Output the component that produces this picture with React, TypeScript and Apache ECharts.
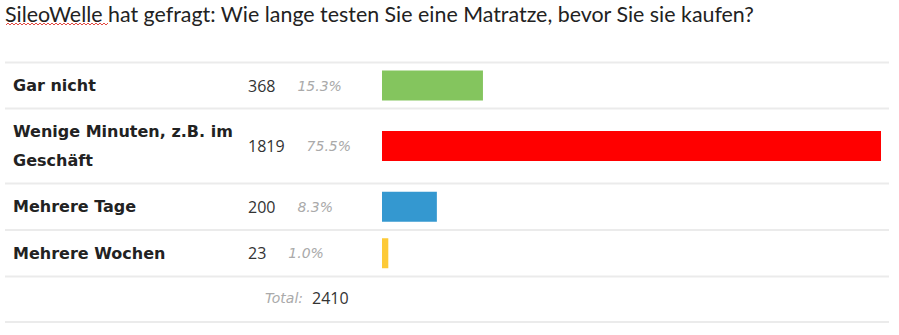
import React, { useEffect, useRef } from "react";
import * as echarts from "echarts";

const titleText = "SileoWelle hat gefragt: Wie lange testen Sie eine Matratze, bevor Sie sie kaufen?";
const categories = ["Gar nicht", "Wenige Minuten, z.B. im Geschäft", "Mehrere Tage", "Mehrere Wochen"];
const counts = [368, 1819, 200, 23];
const percents = ["15.3%", "75.5%", "8.3%", "1.0%"];
const barColors = ["#84c55e", "#ff0000", "#3498d0", "#fdca37"];
const totalLabel = "Total:";

// layout (row separator positions, in px)
const rowLines = [62.5, 108.5, 183.5, 230, 276.5, 322];
const barLeft = 382;
const barAreaWidth = 499;

export default function App() {
  const ref = useRef<HTMLDivElement>(null);
  useEffect(() => {
    if (!ref.current) return;
    const chart = echarts.init(ref.current, null, { renderer: "svg" });
    const maxVal = Math.max(...counts);
    const total = counts.reduce((a, b) => a + b, 0);

    const grids = categories.map((_, i) => ({
      left: barLeft,
      width: barAreaWidth,
      top: rowLines[i],
      height: rowLines[i + 1] - rowLines[i],
    }));
    const xAxes = categories.map((_, i) => ({
      type: "value",
      gridIndex: i,
      min: 0,
      max: maxVal,
      show: false,
    }));
    const yAxes = categories.map((c, i) => ({
      type: "category",
      gridIndex: i,
      data: [c],
      axisLine: { show: false },
      axisTick: { show: false },
      splitLine: { show: false },
      axisLabel: {
        align: "left",
        margin: barLeft - 13,
        fontFamily: "DejaVu Sans",
        fontWeight: "bold",
        fontSize: 16,
        color: "#222",
        width: 230,
        overflow: "break",
        lineHeight: 29,
      },
    }));
    const series = categories.map((c, i) => ({
      type: "bar",
      name: c,
      xAxisIndex: i,
      yAxisIndex: i,
      data: [counts[i]],
      barWidth: 30,
      itemStyle: { color: barColors[i] },
      label: {
        show: true,
        position: [248 - barLeft, 15],
        align: "left",
        verticalAlign: "middle",
        formatter: `{c|${counts[i]}}{p|${percents[i]}}`,
        rich: {
          c: { fontFamily: "Open Sans", fontSize: 16, color: "#333" },
          p: {
            fontFamily: "DejaVu Sans",
            fontStyle: "italic",
            fontSize: 14,
            color: "#aaa",
            padding: [0, 0, 0, 22],
          },
        },
      },
    }));

    const squiggle: number[][] = [];
    for (let x = 6, k = 0; x <= 108; x += 2, k++) squiggle.push([x, k % 2 ? 23 : 25]);

    const graphics: any[] = [
      {
        type: "text",
        x: 5,
        y: 3,
        style: {
          text: titleText,
          fontFamily: "Lato",
          fontSize: 21.4,
          fill: "#222",
          verticalAlign: "top",
        },
      },
      {
        type: "polyline",
        shape: { points: squiggle },
        style: { stroke: "#e2473f", lineWidth: 1, fill: null },
      },
      ...rowLines.map((y) => ({
        type: "line",
        shape: { x1: 5, y1: y, x2: 889, y2: y },
        style: { stroke: "#ebebeb", lineWidth: 2 },
      })),
      {
        type: "text",
        x: 303,
        y: 298,
        style: {
          text: totalLabel,
          fontFamily: "DejaVu Sans",
          fontStyle: "italic",
          fontSize: 14,
          fill: "#aaa",
          align: "right",
          verticalAlign: "middle",
        },
      },
      {
        type: "text",
        x: 312,
        y: 298,
        style: {
          text: String(total),
          fontFamily: "Open Sans",
          fontSize: 16,
          fill: "#333",
          align: "left",
          verticalAlign: "middle",
        },
      },
    ];

    chart.setOption({
      animation: false,
      grid: grids,
      xAxis: xAxes,
      yAxis: yAxes,
      series,
      graphic: graphics,
    });
    return () => chart.dispose();
  }, []);
  return (
    <div
      ref={ref}
      style={{ position: "fixed", left: 0, top: 0, width: 899, height: 335, background: "#fff" }}
    />
  );
}
